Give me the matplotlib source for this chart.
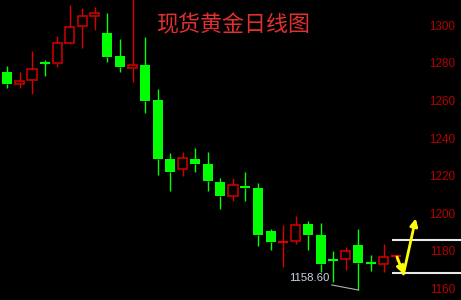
"""
Spot gold daily candlestick chart (现货黄金日线图), dark terminal style.
"""

import matplotlib

matplotlib.use("Agg")
import matplotlib.pyplot as plt
from matplotlib.patches import Rectangle

# daily OHLC
opens = [1276.1, 1269.7, 1271.6, 1280.7, 1280.7, 1291.6, 1300.2, 1305.5,
         1296.4, 1284.2, 1278.0, 1279.8, 1261.0, 1229.8, 1224.1, 1229.8,
         1226.8, 1217.7, 1209.9, 1215.3, 1214.2, 1191.3, 1185.3, 1186.3,
         1195.2, 1189.4, 1176.1, 1176.6, 1184.2, 1174.2, 1173.7, 1178.1]
highs = [1279.3, 1276.1, 1287.2, 1282.4, 1294.8, 1311.3, 1309.9, 1310.5,
         1307.3, 1293.5, 1316.0, 1294.3, 1266.9, 1232.8, 1233.3, 1235.5,
         1233.3, 1219.3, 1219.8, 1222.9, 1216.9, 1192.4, 1194.7, 1199.5,
         1196.8, 1195.4, 1180.5, 1183.1, 1192.4, 1178.6, 1184.3, 1178.2]
lows = [1267.6, 1267.6, 1264.0, 1273.9, 1278.6, 1290.8, 1288.5, 1298.0,
        1281.0, 1275.7, 1270.4, 1254.1, 1220.9, 1212.9, 1220.4, 1222.9,
        1212.4, 1203.2, 1207.4, 1207.4, 1183.5, 1181.5, 1172.5, 1184.4,
        1181.4, 1169.8, 1164.5, 1170.4, 1160.0, 1170.3, 1169.8, 1175.4]
closes = [1269.5, 1271.3, 1277.7, 1280.6, 1291.3, 1299.8, 1305.9, 1307.3,
          1284.0, 1278.4, 1279.6, 1260.5, 1229.6, 1222.5, 1230.2, 1227.1,
          1217.9, 1209.9, 1215.8, 1214.0, 1189.5, 1185.5, 1185.4, 1194.7,
          1189.0, 1174.1, 1176.0, 1181.0, 1174.6, 1174.1, 1177.4, 1178.2]

yticks = [1160, 1180, 1200, 1220, 1240, 1260, 1280, 1300]
levels = [1186.6, 1168.9]  # support / resistance lines
low_label = "1158.60"
title = "现货黄金日线图"

RED = "#d80000"
GREEN = "#00ff00"
BODY_W = 0.8

fig = plt.figure(figsize=(4.61, 3.0), dpi=100, facecolor="black")
ax = fig.add_axes([0, 0, 1, 1])
ax.set_facecolor("black")
ax.set_xlim(-0.558, 36.175)
ax.set_ylim(1154.7, 1314.2)
ax.axis("off")

for i, (o, h, l, c) in enumerate(zip(opens, highs, lows, closes)):
    up = c >= o
    col = RED if up else GREEN
    top, bot = max(o, c), min(o, c)
    if top - bot < 0.5:
        # doji: a cross
        ax.vlines(i, l, h, color=col, lw=1.0)
        ax.hlines(o, i - BODY_W / 2, i + BODY_W / 2, color=col, lw=1.5)
        continue
    ax.vlines(i, top, h, color=col, lw=1.0)
    ax.vlines(i, l, bot, color=col, lw=1.0)
    if up:
        ax.add_patch(Rectangle((i - 0.37, bot), 0.74, top - bot,
                               facecolor="black", edgecolor=RED, lw=1.1))
    else:
        ax.add_patch(Rectangle((i - BODY_W / 2, bot), BODY_W, top - bot,
                               facecolor=GREEN, edgecolor="none"))

# right-side price scale
for v in yticks:
    ax.text(455 / 461, v, str(v), transform=ax.get_yaxis_transform(),
            ha="right", va="center", color="#b40000",
            family="Liberation Sans", fontsize=8.4)

# horizontal levels
for lv in levels:
    ax.hlines(lv, 30.65, 36.2, color="#e8e8e8", lw=1.5)

# low marker
lo_i = lows.index(min(lows))
ax.text(22.47, 1166.6, low_label, ha="left", va="center", color="#cdd4e4",
        family="Liberation Sans", fontsize=8.2)
ax.plot([25.87, lo_i], [1162.7, lows[lo_i]], color="#b0b0b0", lw=0.8)

# yellow projection arrows
arrow = dict(arrowstyle="-|>", color="#ffff00", lw=2.0, mutation_scale=11,
             shrinkA=0, shrinkB=0)
ax.annotate("", xy=(31.59, 1168.5), xytext=(31.08, 1177.6), arrowprops=arrow)
ax.annotate("", xy=(32.57, 1198.1), xytext=(31.59, 1168.5), arrowprops=arrow)

fig.text(0.5065, 0.917, title, ha="center", va="center", color="#e0302f",
         family=["Noto Sans CJK SC", "DejaVu Sans"], fontsize=15.8)

fig.savefig("out.png", dpi=100, facecolor="black")
plt.close(fig)
